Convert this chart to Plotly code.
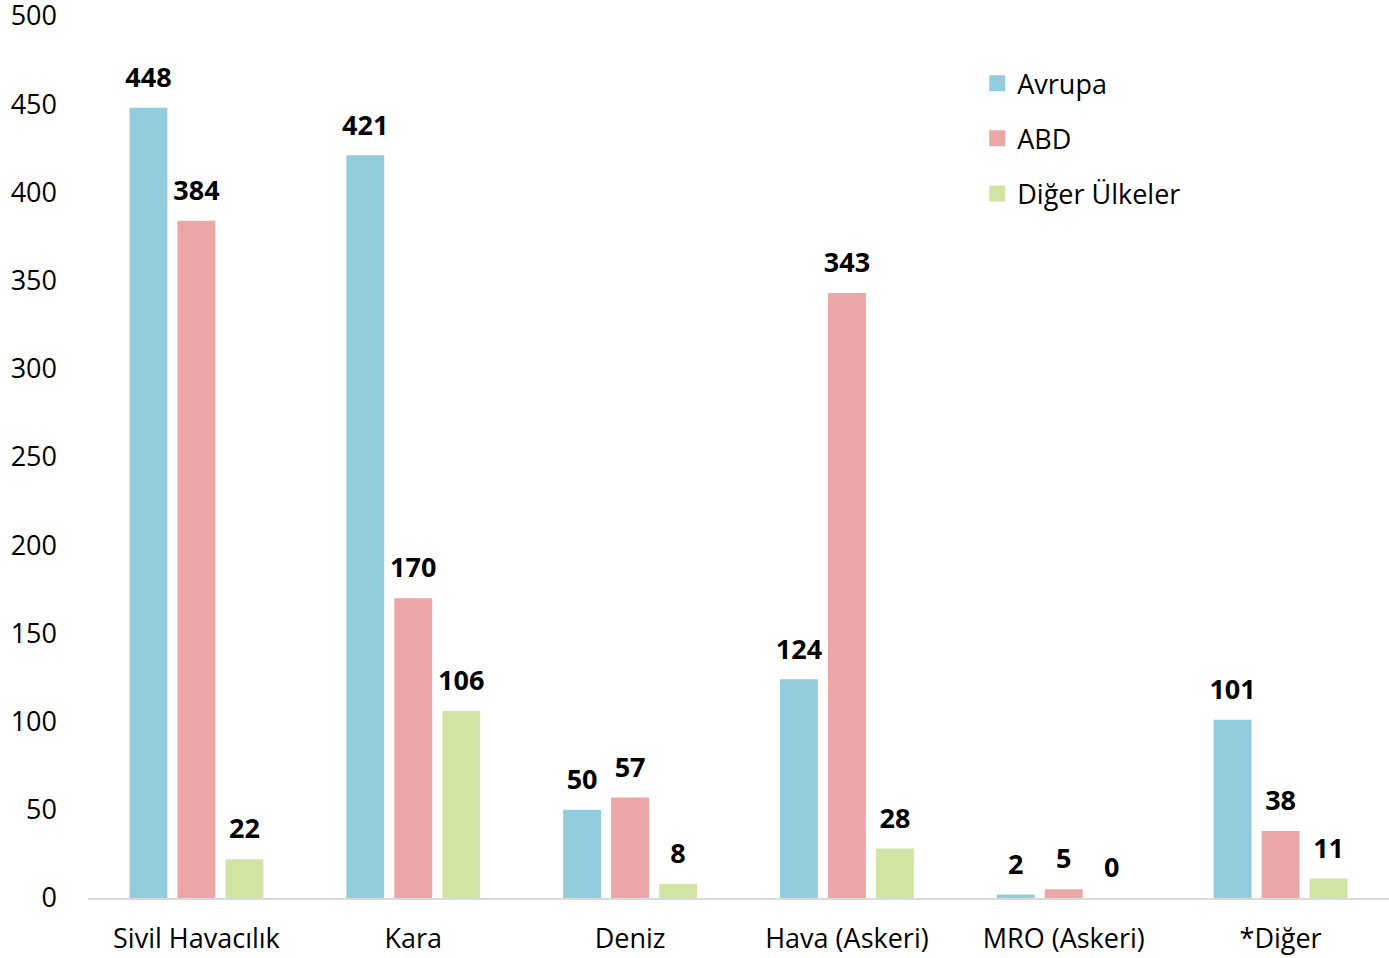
import plotly.graph_objects as go

categories = ["Sivil Havacılık", "Kara", "Deniz", "Hava (Askeri)", "MRO (Askeri)", "*Diğer"]
avrupa = [448, 421, 50, 124, 2, 101]
abd = [384, 170, 57, 343, 5, 38]
diger = [22, 106, 8, 28, 0, 11]
series_names = ["Avrupa", "ABD", "Diğer Ülkeler"]
colors = ["#93CDDD", "#EBA6A7", "#D2E4A4"]
y_ticks = [0, 50, 100, 150, 200, 250, 300, 350, 400, 450, 500]

FONT = "Open Sans, sans-serif"
FS = 27
LABEL_GAP = 5.5  # extra space (data units) between bar top and its value label

fig = go.Figure()
for i, (name, vals) in enumerate(zip(series_names, [avrupa, abd, diger])):
    fig.add_trace(go.Bar(
        name=name, x=categories, y=vals, offsetgroup=str(i),
        marker=dict(color=colors[i], line=dict(width=0)),
        showlegend=False, hoverinfo="x+y",
    ))
    # transparent spacer on top of each bar carrying the value label
    fig.add_trace(go.Bar(
        name=name, x=categories, y=[LABEL_GAP] * len(vals), base=vals,
        offsetgroup=str(i),
        marker=dict(color="rgba(0,0,0,0)", line=dict(width=0)),
        text=[str(v) for v in vals], textposition="outside",
        texttemplate="<b>%{text}</b>", constraintext="none",
        textfont=dict(family=FONT, size=FS, color="#000000"),
        cliponaxis=False, showlegend=False, hoverinfo="skip",
    ))
# legend entries with square swatches
for i, name in enumerate(series_names):
    fig.add_trace(go.Scatter(
        name=name, x=[None], y=[None], mode="markers",
        marker=dict(symbol="square", size=19, color=colors[i]),
        legendgroup=name, showlegend=True,
    ))

fig.update_layout(
    width=1389, height=958,
    margin=dict(l=88, r=0, t=16, b=60),
    paper_bgcolor="white", plot_bgcolor="white",
    barmode="group", bargap=0.336, bargroupgap=0.21,
    font=dict(family=FONT, size=FS, color="#000000"),
    showlegend=True,
    legend=dict(x=0.6835, y=0.951, xanchor="left", yanchor="top",
                font=dict(family=FONT, size=FS), tracegroupgap=17,
                itemwidth=30, bgcolor="rgba(0,0,0,0)"),
    xaxis=dict(showline=True, linecolor="#D9D9D9", linewidth=2, ticks="",
               showgrid=False, automargin=False, ticklabelstandoff=16,
               tickfont=dict(family=FONT, size=FS)),
    yaxis=dict(range=[0, 500.01], tickvals=y_ticks, showgrid=False, zeroline=False,
               showline=False, ticks="", automargin=False, ticklabelstandoff=30,
               ticklabeloverflow="allow",
               tickfont=dict(family=FONT, size=FS)),
)

fig.write_html("out.html", config={"displayModeBar": False},
               post_script="document.body.style.margin='0px';document.body.style.overflow='hidden';")
